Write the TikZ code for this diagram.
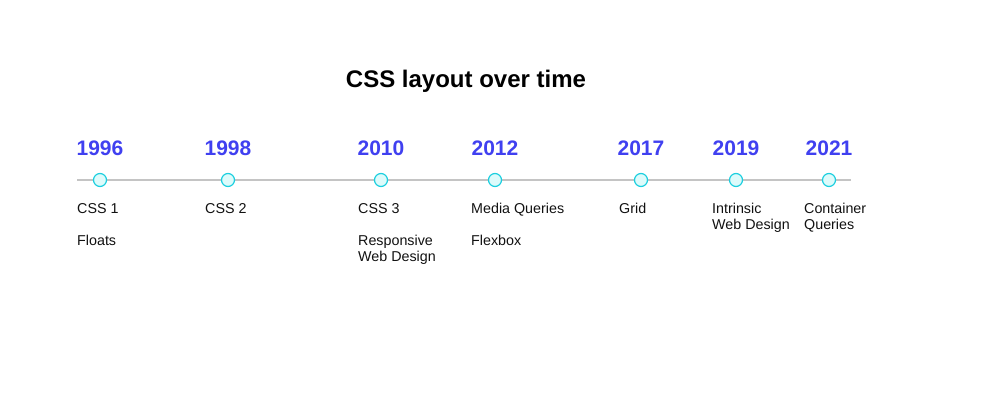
\documentclass[tikz,border=0pt]{standalone}
\usepackage{fontspec}
\setmainfont{Liberation Sans}
\definecolor{yearblue}{HTML}{4040F0}
\definecolor{linegray}{HTML}{C4C4C4}
\definecolor{dotfill}{HTML}{DDFBFB}
\definecolor{dotline}{HTML}{1CCFDF}
\definecolor{txt}{HTML}{111111}
\tikzset{
  year/.style={anchor=base, inner sep=0pt, text=yearblue, font=\fontsize{21}{25}\selectfont\bfseries},
  lbl/.style={anchor=base west, inner sep=0pt, text=txt, font=\fontsize{14.3}{16}\selectfont},
  dot/.style={circle, draw=dotline, fill=dotfill, line width=1.2pt, minimum size=13pt, inner sep=0pt},
  titlestyle/.style={anchor=base, inner sep=0pt, text=black, font=\fontsize{24}{30}\selectfont\bfseries}
}
\begin{document}
\begin{tikzpicture}[x=1pt,y=-1pt]
\useasboundingbox (0,0) rectangle (991,416);
\node[titlestyle] (title) at (466,87) {CSS layout over time};
\coordinate (ls) at (77,180);
\coordinate (le) at (851,180);
\draw[linegray, line width=2.2pt] (ls) -- (le);
\foreach \x/\y/\n in {100/1996/a,228/1998/b,381/2010/c,495/2012/d,641/2017/e,736/2019/f,829/2021/g}{
  \node[dot] (d\n) at (\x,180) {};
  \node[year] (y\n) at (\x,155) {\y};
}
\node[lbl] (l1) at (77,213) {CSS 1};
\node[lbl] (l1b) at (77,245) {Floats};
\node[lbl] (l2) at (205,213) {CSS 2};
\node[lbl] (l3) at (358,213) {CSS 3};
\node[lbl] (l3b) at (358,245) {Responsive};
\node[lbl] (l3c) at (358,261) {Web Design};
\node[lbl] (l4) at (471,213) {Media Queries};
\node[lbl] (l4b) at (471,245) {Flexbox};
\node[lbl] (l5) at (619,213) {Grid};
\node[lbl] (l6) at (712,213) {Intrinsic};
\node[lbl] (l6b) at (712,229) {Web Design};
\node[lbl] (l7) at (804,213) {Container};
\node[lbl] (l7b) at (804,229) {Queries};
\end{tikzpicture}
\end{document}
